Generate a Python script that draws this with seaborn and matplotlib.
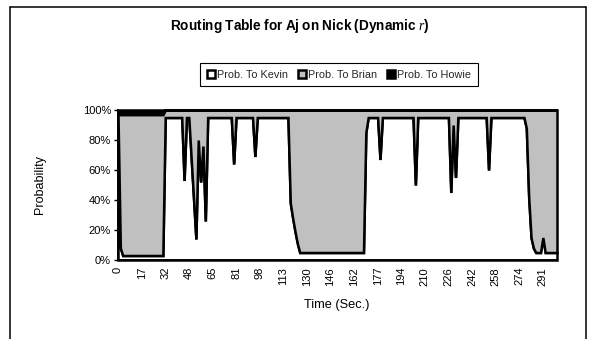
import numpy as np
import matplotlib
matplotlib.use("Agg")
import matplotlib.pyplot as plt
import seaborn as sns
from matplotlib.patches import Patch
from matplotlib.lines import Line2D

# ---------------- data (percent, one value per sample) ----------------
prob_kevin = [
    97, 8, 3, 3, 3, 3, 3, 3, 3, 3,
    3, 3, 3, 3, 3, 3, 3, 3, 3, 3,
    95, 95, 95, 95, 95, 95, 95, 95, 53, 95,
    95, 68, 41, 14, 80, 52, 76, 26, 95, 95,
    95, 95, 95, 95, 95, 95, 95, 95, 95, 64,
    95, 95, 95, 95, 95, 95, 95, 95, 69, 95,
    95, 95, 95, 95, 95, 95, 95, 95, 95, 95,
    95, 95, 95, 38, 28, 19, 11, 5, 5, 5,
    5, 5, 5, 5, 5, 5, 5, 5, 5, 5,
    5, 5, 5, 5, 5, 5, 5, 5, 5, 5,
    5, 5, 5, 5, 5, 85, 95, 95, 95, 95,
    95, 67, 95, 95, 95, 95, 95, 95, 95, 95,
    95, 95, 95, 95, 95, 95, 50, 95, 95, 95,
    95, 95, 95, 95, 95, 95, 95, 95, 95, 95,
    95, 45, 90, 55, 95, 95, 95, 95, 95, 95,
    95, 95, 95, 95, 95, 95, 95, 60, 95, 95,
    95, 95, 95, 95, 95, 95, 95, 95, 95, 95,
    95, 95, 95, 88, 42, 15, 8, 5, 5, 5,
    15, 5, 5, 5, 5, 5, 5,
]
prob_brian = [
    0, 89, 94, 94, 94, 94, 94, 94, 94, 94,
    94, 94, 94, 94, 94, 94, 94, 94, 94, 94,
    5, 5, 5, 5, 5, 5, 5, 5, 47, 5,
    5, 32, 59, 86, 20, 48, 24, 74, 5, 5,
    5, 5, 5, 5, 5, 5, 5, 5, 5, 36,
    5, 5, 5, 5, 5, 5, 5, 5, 31, 5,
    5, 5, 5, 5, 5, 5, 5, 5, 5, 5,
    5, 5, 5, 62, 72, 81, 89, 95, 95, 95,
    95, 95, 95, 95, 95, 95, 95, 95, 95, 95,
    95, 95, 95, 95, 95, 95, 95, 95, 95, 95,
    95, 95, 95, 95, 95, 15, 5, 5, 5, 5,
    5, 33, 5, 5, 5, 5, 5, 5, 5, 5,
    5, 5, 5, 5, 5, 5, 50, 5, 5, 5,
    5, 5, 5, 5, 5, 5, 5, 5, 5, 5,
    5, 55, 10, 45, 5, 5, 5, 5, 5, 5,
    5, 5, 5, 5, 5, 5, 5, 40, 5, 5,
    5, 5, 5, 5, 5, 5, 5, 5, 5, 5,
    5, 5, 5, 12, 58, 85, 92, 95, 95, 95,
    85, 95, 95, 95, 95, 95, 95,
]
prob_howie = [
    3, 3, 3, 3, 3, 3, 3, 3, 3, 3,
    3, 3, 3, 3, 3, 3, 3, 3, 3, 3,
    0, 0, 0, 0, 0, 0, 0, 0, 0, 0,
    0, 0, 0, 0, 0, 0, 0, 0, 0, 0,
    0, 0, 0, 0, 0, 0, 0, 0, 0, 0,
    0, 0, 0, 0, 0, 0, 0, 0, 0, 0,
    0, 0, 0, 0, 0, 0, 0, 0, 0, 0,
    0, 0, 0, 0, 0, 0, 0, 0, 0, 0,
    0, 0, 0, 0, 0, 0, 0, 0, 0, 0,
    0, 0, 0, 0, 0, 0, 0, 0, 0, 0,
    0, 0, 0, 0, 0, 0, 0, 0, 0, 0,
    0, 0, 0, 0, 0, 0, 0, 0, 0, 0,
    0, 0, 0, 0, 0, 0, 0, 0, 0, 0,
    0, 0, 0, 0, 0, 0, 0, 0, 0, 0,
    0, 0, 0, 0, 0, 0, 0, 0, 0, 0,
    0, 0, 0, 0, 0, 0, 0, 0, 0, 0,
    0, 0, 0, 0, 0, 0, 0, 0, 0, 0,
    0, 0, 0, 0, 0, 0, 0, 0, 0, 0,
    0, 0, 0, 0, 0, 0, 0,
]
time_tick_labels = ["0", "17", "32", "48", "65", "81", "98", "113", "130", "146",
                    "162", "177", "194", "210", "226", "242", "258", "274", "291"]
series_names = ["Prob. To Kevin", "Prob. To Brian", "Prob. To Howie"]
series_colors = ["white", "#C0C0C0", "black"]
y_ticks = [0, 20, 40, 60, 80, 100]

# ---------------- style ----------------
sns.set_theme(style="white")
plt.rcParams['font.family'] = ['Liberation Sans', 'DejaVu Sans']
plt.rcParams['mathtext.fontset'] = 'custom'
plt.rcParams['mathtext.rm'] = 'Liberation Sans'
plt.rcParams['mathtext.it'] = 'Liberation Serif:italic'
plt.rcParams['mathtext.bf'] = 'Liberation Sans:bold'

W, H = 591, 339
fig = plt.figure(figsize=(W / 100, H / 100), dpi=100)
fig.patch.set_facecolor("white")

ax_l, ax_r, ax_t, ax_b = 118, 557, 110, 260
ax = fig.add_axes([ax_l / W, 1 - ax_b / H, (ax_r - ax_l) / W, (ax_b - ax_t) / H])

x = np.arange(len(prob_kevin))
polys = ax.stackplot(x, prob_kevin, prob_brian, prob_howie,
                     colors=series_colors, edgecolor="black", linewidth=1.8)
for p in polys:
    p.set_clip_on(False)
    p.set_joinstyle("miter")

ax.set_xlim(0, len(x) - 1)
ax.set_ylim(0, 100)
ax.set_yticks(y_ticks)
ax.set_yticklabels([f"{v}%" for v in y_ticks])
ax.set_xticks(x[::10])
ax.set_xticklabels(time_tick_labels, rotation=90)
ax.tick_params(axis="y", length=3, width=1, color="black", direction="out",
               pad=2, labelsize=8, labelcolor="black", left=True)
ax.tick_params(axis="x", length=0, pad=5, labelsize=8, labelcolor="black")
for s in ["top", "right"]:
    ax.spines[s].set_visible(False)
for s in ["left", "bottom"]:
    ax.spines[s].set_color("black")
    ax.spines[s].set_linewidth(1.3)
ax.set_facecolor("white")
ax.grid(False)

# titles / labels
fig.text(300 / W, 1 - 26 / H, r"$\mathbf{Routing\ Table\ for\ Aj\ on\ Nick\ (Dynamic\ }\mathit{r}\mathbf{)}$",
         ha="center", va="center", fontsize=9.8, color="black")
fig.text(40 / W, 1 - 185 / H, "Probability", rotation=90, ha="center", va="center",
         fontsize=9, color="black")
fig.text(337 / W, 1 - 305 / H, "Time (Sec.)", ha="center", va="center",
         fontsize=9.2, color="black")

# legend
handles = [Patch(facecolor=c, edgecolor="black", linewidth=1.8) for c in series_colors]
leg = fig.legend(handles, series_names, loc="center", bbox_to_anchor=(339 / W, 1 - 74.5 / H),
                 ncol=3, frameon=True, fancybox=False, fontsize=7.8, handlelength=0.75,
                 handleheight=0.75, handletextpad=0.2, columnspacing=0.9, borderpad=0.6)
leg.get_frame().set_edgecolor("black")
leg.get_frame().set_linewidth(0.8)
leg.get_frame().set_alpha(1)

# chart border (outer frame)
bx0, bx1, by0 = 10 / W, 586 / W, 1 - 7 / H
for xs, ys in [([bx0, bx0], [-0.1, by0]), ([bx0, bx1], [by0, by0]), ([bx1, bx1], [by0, -0.1])]:
    fig.add_artist(Line2D(xs, ys, color="black", linewidth=1.1, transform=fig.transFigure))

fig.savefig("out.png", dpi=100, facecolor="white")
